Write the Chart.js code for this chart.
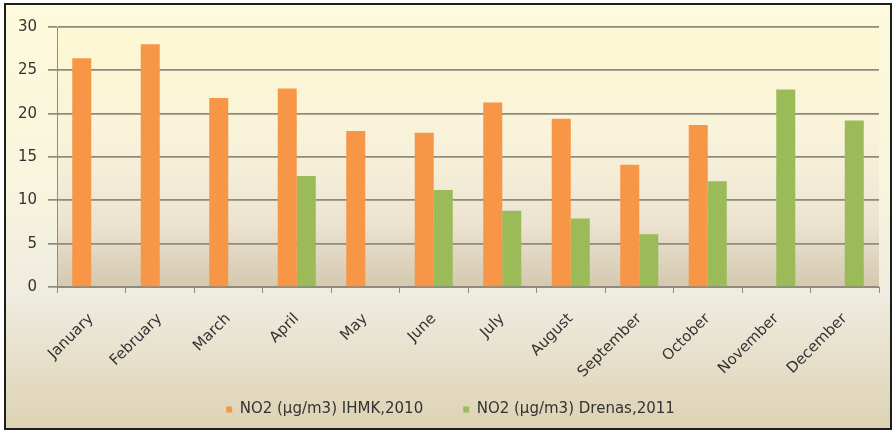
<!DOCTYPE html>
<html>
<head>
<meta charset="utf-8">
<script src="https://cdn.jsdelivr.net/npm/chart.js@4/dist/chart.umd.min.js"></script>
<style>
  html, body { margin: 0; padding: 0; background: #ffffff; }
  #wrap { width: 894px; height: 431px; }
</style>
</head>
<body>
<div id="wrap"><canvas id="c" width="894" height="431"></canvas></div>
<script>
// Monthly NO2 concentrations (µg/m3)
const months = ['January', 'February', 'March', 'April', 'May', 'June', 'July', 'August', 'September', 'October', 'November', 'December'];
const ihmk2010 = [26.4, 28.0, 21.8, 22.9, 18.0, 17.8, 21.3, 19.4, 14.1, 18.7, null, null];
const drenas2011 = [null, null, null, 12.8, null, 11.2, 8.8, 7.9, 6.1, 12.2, 22.8, 19.2];
const seriesNames = ['NO2 (µg/m3) IHMK,2010', 'NO2 (µg/m3) Drenas,2011'];
const yTicks = [0, 5, 10, 15, 20, 25, 30];

const FONT = 'DejaVu Sans';
const TEXT = '#333333';

// Framed background with a soft cream-to-tan gradient, plus a separate plot-area gradient
const backdrop = {
  id: 'backdrop',
  beforeDraw(chart) {
    const ctx = chart.ctx;
    const W = chart.width, H = chart.height;
    ctx.save();
    ctx.fillStyle = '#ffffff';
    ctx.fillRect(0, 0, W, H);
    const g = ctx.createLinearGradient(0, 5, 0, 429);
    g.addColorStop(0, '#fefadb');
    g.addColorStop(0.4, '#f9f5dd');
    g.addColorStop(0.68, '#efece0');
    g.addColorStop(1, '#ddd2b4');
    ctx.fillStyle = g;
    ctx.fillRect(5, 4, 886, 425);

    const a = chart.chartArea;
    const pg = ctx.createLinearGradient(0, a.top, 0, a.bottom);
    pg.addColorStop(0, '#fef8d4');
    pg.addColorStop(0.45, '#f8f2da');
    pg.addColorStop(0.75, '#ece4d1');
    pg.addColorStop(1, '#d4c8b0');
    ctx.fillStyle = pg;
    ctx.fillRect(a.left, a.top, a.right - a.left, a.bottom - a.top);
    ctx.restore();
  },
  afterDraw(chart) {
    const ctx = chart.ctx;
    ctx.save();
    ctx.strokeStyle = '#1e1e1e';
    ctx.lineWidth = 2;
    ctx.strokeRect(5, 4, 886, 425);
    ctx.restore();
  }
};

// The legend keeps wide spacing between its entries but sits closer under the month labels
const legendLift = {
  id: 'legendLift',
  afterLayout(chart) {
    const lg = chart.legend;
    if (!lg) return;
    const lift = 23, shift = 3;
    lg.top -= lift;
    lg.bottom -= lift;
    lg.left += shift;
    lg.right += shift;
  }
};

new Chart(document.getElementById('c'), {
  type: 'bar',
  data: {
    labels: months,
    datasets: [
      { label: seriesNames[0], data: ihmk2010, backgroundColor: '#f79646', borderWidth: 0 },
      { label: seriesNames[1], data: drenas2011, backgroundColor: '#9bbb59', borderWidth: 0 }
    ]
  },
  options: {
    responsive: false,
    animation: false,
    devicePixelRatio: 1,
    layout: { padding: { top: 27, right: 15, bottom: -19, left: 16 } },
    datasets: { bar: { categoryPercentage: 0.555, barPercentage: 1.0 } },
    plugins: {
      tooltip: { enabled: false },
      legend: {
        position: 'bottom',
        align: 'center',
        labels: {
          boxWidth: 6,
          boxHeight: 6,
          padding: 40,
          color: TEXT,
          font: { family: FONT, size: 15 }
        }
      }
    },
    scales: {
      x: {
        offset: true,
        grid: {
          display: true,
          drawOnChartArea: false,
          drawTicks: true,
          tickLength: 6,
          offset: true,
          color: '#8c8c86'
        },
        border: { display: true, color: '#8c8c86', width: 1 },
        ticks: {
          autoSkip: false,
          minRotation: 45,
          maxRotation: 45,
          padding: 17,
          color: TEXT,
          font: { family: FONT, size: 15 }
        },
        afterFit(scale) { scale.height = 98; }
      },
      y: {
        min: 0,
        max: 30,
        afterBuildTicks(scale) { scale.ticks = yTicks.map(v => ({ value: v })); },
        grid: {
          color: '#8e8a7e',
          lineWidth: 1.7,
          drawTicks: true,
          tickLength: 9
        },
        border: { display: true, color: '#8c8c86', width: 1 },
        ticks: {
          padding: 11,
          color: TEXT,
          font: { family: FONT, size: 15 }
        },
        afterFit(scale) { scale.width = 41; }
      }
    }
  },
  plugins: [backdrop, legendLift]
});
</script>
</body>
</html>
